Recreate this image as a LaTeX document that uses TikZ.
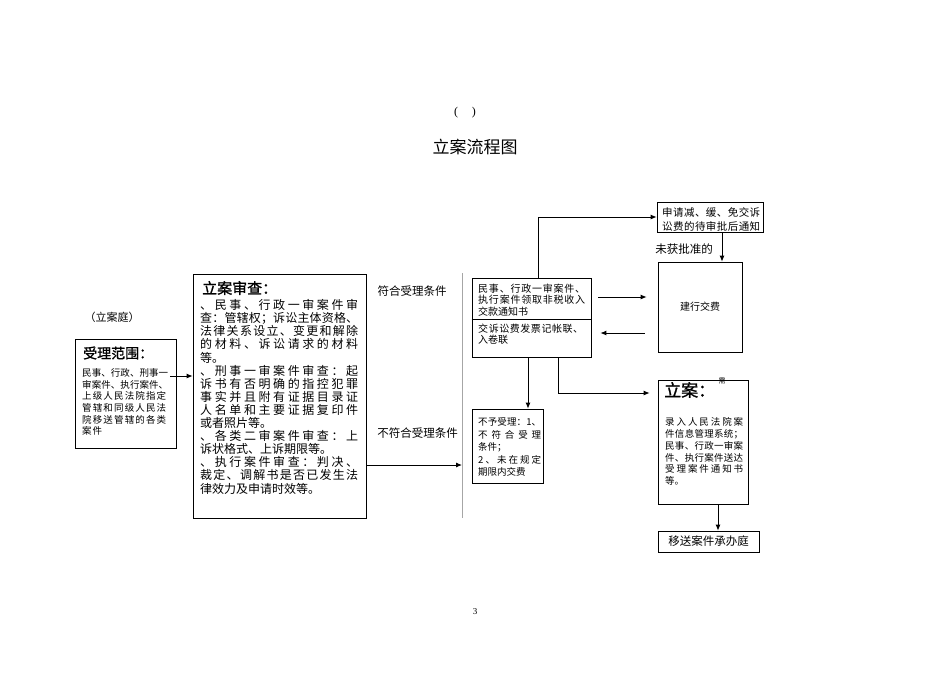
\documentclass[tikz,border=0pt]{standalone}
\usepackage{fontspec}
\setmainfont{Noto Sans CJK SC}
\newfontfamily\latinserif{Liberation Serif}
\newfontfamily\titlefont{Noto Sans CJK SC}[FakeBold=1.2]
\usetikzlibrary{arrows.meta}
\makeatletter
\def\spr@a#1{#1\futurelet\spr@next\spr@b}
\def\spr@b{\ifx\spr@next\relax\expandafter\@gobble\else\hfill\expandafter\spr@a\fi}
\newcommand\spreadline[2]{\makebox[#1][s]{\spr@a#2\relax}}
\makeatother
\newcommand\fsz[1]{\fontsize{#1}{#1}\selectfont}
\newcommand\Ls[2]{\hbox{\spreadline{#1}{#2}}}
\newcommand\Ln[1]{\hbox{#1}}
\newcommand\blk[2]{\vtop{\baselineskip=#1\lineskiplimit=-20pt\relax#2}}
\begin{document}
\begin{tikzpicture}[x=1pt,y=-1pt,
  boxwh/.style n args={2}{draw=black,line width=0.7pt,inner sep=0pt,minimum width=#1,minimum height=#2},
  txt/.style={inner sep=0pt,anchor=base west},
  lbl/.style={inner sep=0pt},
  arr/.style={-{Latex[length=6pt,width=5pt]},line width=0.9pt}]
\useasboundingbox[fill=white] (0,0) rectangle (950,672);

% headings
\node[lbl] (paren) at (465,113) {\latinserif\fsz{12}(\hspace{14pt})};
\node[lbl] (title) at (475,147) {\fsz{17}立案流程图};
\node[lbl] (ting) at (112,317) {\fsz{11}（立案庭）};

% boxes
\node[boxwh={101pt}{109pt}] (b1) at (125.5,393.5) {};
\node[boxwh={173pt}{244pt}] (b2) at (279.5,396) {};
\node[boxwh={119pt}{79pt}] (b3) at (531.5,317.5) {};
\node[boxwh={106pt}{30pt}] (ap) at (710,217) {};
\node[boxwh={84pt}{90pt},font=\fsz{10}] (jh) at (700,307) {建行交费};
\node[boxwh={71pt}{74pt}] (ny) at (507.5,446) {};
\node[boxwh={90pt}{124pt}] (la) at (703,442) {};
\node[boxwh={101pt}{21pt},font=\fsz{11.5}] (ys) at (708.5,541.5) {移送案件承办庭};

% box 1 text
\node[txt,anchor=west] (b1h) at (83,353) {\titlefont\fsz{14}受理范围：};
\node[txt] (b1t) at (82,376.6) {\fsz{9.5}\blk{11.6pt}{%
  \Ls{86pt}{民事、行政、刑事一}%
  \Ls{86pt}{审案件、执行案件、}%
  \Ls{84pt}{上级人民法院指定}%
  \Ls{84pt}{管辖和同级人民法}%
  \Ls{84pt}{院移送管辖的各类}%
  \Ls{20pt}{案件}}};

% box 2 text
\node[txt,anchor=west] (b2h) at (202,288) {\titlefont\fsz{15}立案审查：};
\node[txt] (b2t) at (200,309.6) {\fsz{12}\blk{13.1pt}{%
  \Ls{158pt}{、民事、行政一审案件审}%
  \Ls{158pt}{查：管辖权；诉讼主体资格、}%
  \Ls{158pt}{法律关系设立、变更和解除}%
  \Ls{158pt}{的材料、诉讼请求的材料}%
  \Ln{等。}%
  \Ls{158pt}{、刑事一审案件审查：起}%
  \Ls{158pt}{诉书有否明确的指控犯罪}%
  \Ls{158pt}{事实并且附有证据目录证}%
  \Ls{158pt}{人名单和主要证据复印件}%
  \Ln{或者照片等。}%
  \Ls{158pt}{、各类二审案件审查：上}%
  \Ln{诉状格式、上诉期限等。}%
  \Ls{158pt}{、执行案件审查：判决、}%
  \Ls{158pt}{裁定、调解书是否已发生法}%
  \Ln{律效力及申请时效等。}}};

% condition labels
\node[lbl] (ok) at (412,291) {\fsz{11.5}符合受理条件};
\node[lbl] (nok) at (417.5,433) {\fsz{11.5}不符合受理条件};

% box 3 text
\coordinate (dv) at ([yshift=-1.5pt]b3.west);
\draw[line width=0.7pt] (dv) -- (dv -| b3.east);
\node[txt] (b3t) at (478,292.1) {\fsz{10}\blk{11.6pt}{%
  \Ls{107pt}{民事、行政一审案件、}%
  \Ls{107pt}{执行案件领取非税收入}%
  \Ln{交款通知书}}};
\node[txt] (b3u) at (478,332.1) {\fsz{10}\blk{11.2pt}{%
  \Ls{105pt}{交诉讼费发票记帐联、}%
  \Ln{入卷联}}};

% application box text
\node[txt] (apt) at (662,216) {\fsz{10.5}\blk{14pt}{%
  \Ls{98pt}{申请减、缓、免交诉}%
  \Ls{98pt}{讼费的待审批后通知}}};
\node[lbl] (wh) at (684,249) {\fsz{11.5}未获批准的};

% not accepted box text
\node[txt] (nyt) at (478,425.6) {\fsz{9.5}\blk{12.5pt}{%
  \Ls{63pt}{不予受理：1、}%
  \Ls{63pt}{不符合受理}%
  \Ln{条件；}%
  \Ls{63pt}{2、未在规定}%
  \Ln{期限内交费}}};

% filing box text
\node[txt,anchor=west] (lah) at (664,390) {\titlefont\fsz{17}立案：};
\node[lbl] (xu) at (722,381) {\fsz{7}需};
\node[txt] (lat) at (665,425.6) {\fsz{9.5}\blk{11.8pt}{%
  \Ls{78pt}{录入人民法院案}%
  \Ls{78pt}{件信息管理系统；}%
  \Ls{78pt}{民事、行政一审案}%
  \Ls{78pt}{件、执行案件送达}%
  \Ls{78pt}{受理案件通知书}%
  \Ln{等。}}};

\node[lbl] (pg) at (475,612) {\latinserif\fsz{9}3};

% vertical separator
\coordinate (vt) at (462,273);
\coordinate (vb) at (462,518);
\draw[gray!70,line width=0.7pt] (vt) -- (vb);

% connectors
\coordinate (c7) at ([yshift=17.5pt]b1.east);
\draw[arr,shorten <=-6pt] (c7) -- (c7 -| b2.west);
\coordinate (c8) at ([yshift=-69pt]b2.east);
\draw[arr] (c8) -- (c8 -| vt);
\coordinate (c1) at ([xshift=6.5pt]b3.north);
\draw[arr] (c1) |- (ap.west);
\coordinate (c2) at ([xshift=12pt]ap.south);
\draw[arr] (c2) -- (c2 |- jh.north);
\coordinate (r1) at ([yshift=20.5pt]b3.east);
\draw[arr,shorten <=7pt,shorten >=11pt] (r1) -- (r1 -| jh.west);
\coordinate (l1) at ([yshift=-15.5pt]b3.east);
\draw[arr,shorten <=13pt,shorten >=9pt] (l1 -| jh.west) -- (l1);
\coordinate (c3) at ([xshift=20.5pt]ny.north);
\draw[arr] (c3 |- b3.south) -- (c3);
\coordinate (c5) at ([xshift=26.5pt]b3.south);
\coordinate (c6) at ([yshift=49pt]la.west);
\draw[arr,shorten >=8pt] (c5) |- (c6);
\coordinate (c4) at ([xshift=15pt]la.south);
\draw[arr] (c4) -- (c4 |- ys.north);
\end{tikzpicture}
\end{document}
